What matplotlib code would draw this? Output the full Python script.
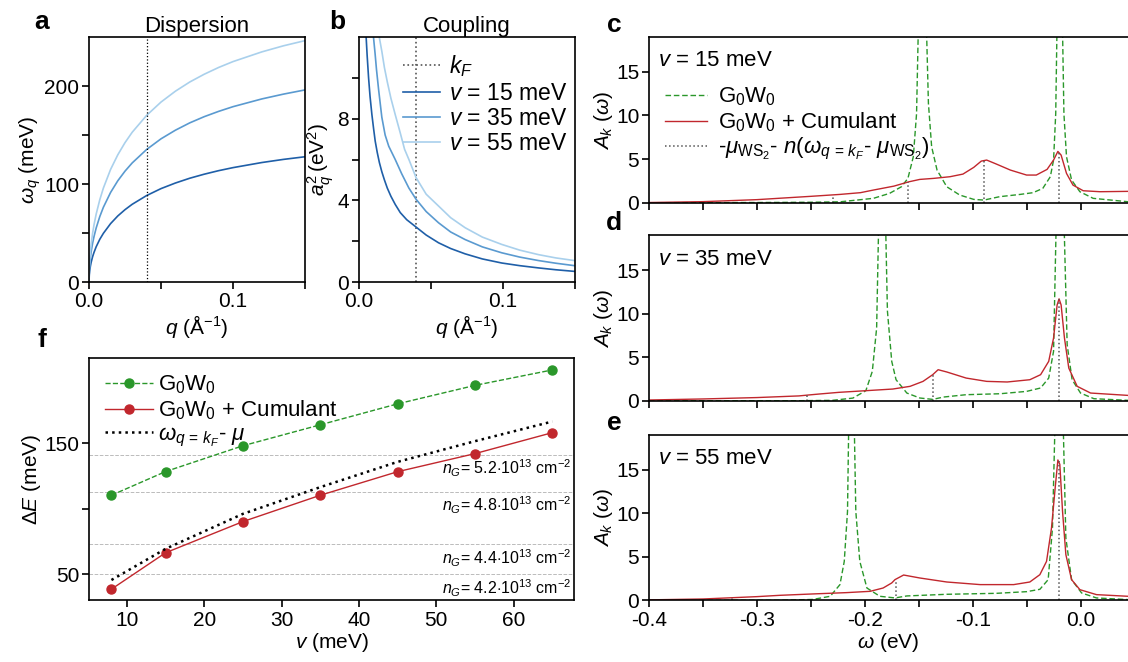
import numpy as np
import matplotlib
matplotlib.use("Agg")
import matplotlib.pyplot as plt

plt.rcParams['font.family'] = ['Liberation Sans', 'DejaVu Sans']
plt.rcParams['mathtext.fontset'] = 'custom'
plt.rcParams['mathtext.rm'] = 'Liberation Sans'
plt.rcParams['mathtext.it'] = 'Liberation Sans:italic'
plt.rcParams['mathtext.bf'] = 'Liberation Sans:bold'
plt.rcParams['font.size'] = 15
plt.rcParams['axes.linewidth'] = 1.2
plt.rcParams['xtick.major.width'] = 1.2
plt.rcParams['ytick.major.width'] = 1.2
plt.rcParams['xtick.major.size'] = 5
plt.rcParams['ytick.major.size'] = 5
plt.rcParams['xtick.major.pad'] = 2.5
plt.rcParams['ytick.major.pad'] = 2

# ---- panel a: dispersion ----
q_disp = [0, 0.0002, 0.0005, 0.001, 0.0015, 0.0025, 0.0035, 0.005, 0.0075, 0.01, 0.015, 0.02, 0.025,
          0.03, 0.04, 0.05, 0.06, 0.07, 0.08, 0.09, 0.10, 0.12, 0.135, 0.15]
w15 = [0, 7.4, 11.6, 16.4, 20.1, 25.8, 30.3, 36.0, 43.6, 49.7, 59.6, 67.4, 73.8, 79.3, 88.2, 95.3,
       101.0, 105.9, 110.0, 113.6, 116.7, 121.9, 125.1, 127.8]
w35 = [0, 11.3, 17.8, 25.2, 30.8, 39.5, 46.5, 55.2, 66.8, 76.3, 91.4, 103.3, 113.1, 121.5, 135.2,
       146.1, 154.9, 162.4, 168.7, 174.1, 178.9, 186.8, 191.7, 196.0]
w55 = [0, 14.2, 22.4, 31.6, 38.7, 49.7, 58.5, 69.4, 84.0, 95.9, 114.9, 129.8, 142.2, 152.8, 170.0,
       183.6, 194.7, 204.1, 212.0, 218.9, 224.9, 234.8, 241.0, 246.3]
kF = 0.040

# ---- panel b: coupling ----
q_b15 = [0.004, 0.0045, 0.0053, 0.006, 0.007, 0.008, 0.0093, 0.0105, 0.0116, 0.013, 0.0145, 0.0162,
         0.018, 0.02, 0.0225, 0.0255, 0.029, 0.0335, 0.04, 0.047, 0.0556, 0.064, 0.074, 0.086,
         0.0995, 0.112, 0.125, 0.137, 0.15]
a15 = [14, 13.2, 12, 11.1, 10.0, 9.1, 8.2, 7.5, 6.9, 6.35, 5.85, 5.4, 5.0, 4.6, 4.2, 3.8, 3.4, 3.05,
       2.69, 2.3, 1.92, 1.64, 1.38, 1.13, 0.93, 0.8, 0.69, 0.6, 0.52]
q_b35 = [0.0085, 0.0095, 0.0104, 0.0115, 0.0125, 0.014, 0.0162, 0.0185, 0.021, 0.0255, 0.03, 0.035,
         0.04, 0.047, 0.0556, 0.064, 0.074, 0.086, 0.0995, 0.112, 0.125, 0.137, 0.15]
a35 = [13.5, 12.7, 12, 11.2, 10.4, 9.4, 8.07, 7.2, 6.65, 6.0, 5.3, 4.6, 4.05, 3.45, 2.9, 2.45, 2.08,
       1.72, 1.43, 1.22, 1.05, 0.92, 0.80]
q_b55 = [0.0125, 0.0135, 0.0144, 0.0162, 0.018, 0.02, 0.0225, 0.0255, 0.029, 0.032, 0.035, 0.04,
         0.047, 0.0556, 0.064, 0.074, 0.086, 0.0995, 0.112, 0.125, 0.137, 0.15]
a55 = [13.3, 12.6, 12.0, 11.3, 10.5, 9.8, 9.0, 8.2, 7.3, 6.5, 6.0, 5.11, 4.3, 3.72, 3.15, 2.66, 2.2,
       1.84, 1.56, 1.34, 1.18, 1.05]

# ---- panels c-e: spectral functions ----
wc_cum = [-0.40, -0.35, -0.30, -0.25, -0.223, -0.204, -0.192, -0.173, -0.159, -0.149, -0.136, -0.121,
          -0.109, -0.099, -0.092, -0.087, -0.078, -0.065, -0.050, -0.041, -0.031, -0.025, -0.021,
          -0.018, -0.013, -0.007, 0.0025, 0.018, 0.044]
cum_c = [0.02, 0.12, 0.35, 0.73, 0.95, 1.15, 1.45, 1.9, 2.4, 2.67, 2.79, 2.98, 3.28, 4.05, 4.77, 4.89,
         4.43, 3.74, 3.17, 3.17, 3.82, 4.89, 5.88, 5.46, 3.36, 2.02, 1.37, 1.26, 1.3]
wc_g = [-0.40, -0.30, -0.25, -0.223, -0.192, -0.177, -0.166, -0.160, -0.155, -0.152, -0.147, -0.141,
        -0.138, -0.133, -0.124, -0.112, -0.099, -0.0895, -0.075, -0.056, -0.044, -0.035, -0.028,
        -0.025, -0.023, -0.0194, -0.0154, -0.013, -0.0083, -0.0006, 0.0117, 0.044]
g_c = [0.0, 0.02, 0.05, 0.1, 0.5, 1.07, 1.83, 2.79, 5.27, 10.2, 40, 11.4, 6.4, 3.74, 1.83, 0.88, 0.38,
       0.3, 0.69, 0.95, 1.15, 1.64, 2.98, 4.89, 10.2, 40, 10.2, 5.27, 2.6, 1.26, 0.5, 0.11]
mark_c_w = [-0.0195, -0.0895, -0.1595, -0.2295]
mark_c_h = [5.85, 4.85, 2.4, 0.9]

wd_cum = [-0.40, -0.35, -0.30, -0.261, -0.25, -0.242, -0.224, -0.199, -0.174, -0.158, -0.146, -0.137,
          -0.132, -0.124, -0.106, -0.087, -0.068, -0.047, -0.037, -0.0295, -0.025, -0.0217, -0.0199,
          -0.018, -0.0149, -0.0109, -0.0031, 0.0093, 0.044]
cum_d = [0.08, 0.2, 0.36, 0.55, 0.68, 0.77, 0.96, 1.15, 1.34, 1.65, 2.22, 2.99, 3.56, 3.3, 2.6, 2.22,
         2.15, 2.41, 2.99, 4.52, 7.2, 11.0, 11.7, 11.0, 7.2, 3.75, 1.65, 0.88, 0.61]
wd_g = [-0.40, -0.30, -0.261, -0.23, -0.211, -0.199, -0.193, -0.189, -0.184, -0.179, -0.175, -0.171,
        -0.161, -0.149, -0.137, -0.127, -0.106, -0.0745, -0.05, -0.037, -0.0295, -0.025, -0.0193,
        -0.0124, -0.0078, 0.0, 0.0124, 0.044]
g_d = [0.0, 0.0, 0.0, 0.04, 0.3, 1.15, 3.37, 8.35, 40, 10.3, 4.52, 2.41, 0.88, 0.31, 0.15, 0.42, 0.69,
       0.8, 1.07, 1.46, 2.6, 5.67, 40, 6.44, 2.41, 0.88, 0.23, 0.04]
mark_d_w = [-0.0195, -0.1365, -0.2535]
mark_d_h = [11.7, 3.0, 0.62]

we_cum = [-0.40, -0.35, -0.30, -0.279, -0.248, -0.217, -0.195, -0.183, -0.175, -0.172, -0.164, -0.149,
          -0.124, -0.093, -0.062, -0.047, -0.0377, -0.0315, -0.0269, -0.0235, -0.021, -0.0192,
          -0.0167, -0.0136, -0.0083, -0.0006, 0.0148, 0.044]
cum_e = [0.05, 0.15, 0.42, 0.57, 0.73, 0.88, 1.03, 1.41, 1.99, 2.37, 2.9, 2.56, 2.1, 1.8, 1.8, 2.1,
         2.94, 4.47, 8.3, 12.9, 16.1, 15.6, 10.25, 5.24, 2.37, 1.22, 0.65, 0.46]
we_g = [-0.40, -0.279, -0.248, -0.232, -0.223, -0.219, -0.216, -0.2126, -0.2083, -0.2046, -0.198,
        -0.186, -0.172, -0.161, -0.124, -0.078, -0.05, -0.0377, -0.030, -0.026, -0.0198, -0.0136,
        -0.0083, 0.001, 0.0148, 0.044]
g_e = [0.0, 0.0, 0.1, 0.46, 1.8, 4.47, 10.2, 40, 10.2, 4.47, 1.41, 0.46, 0.27, 0.5, 0.69, 0.8, 0.99,
       1.26, 2.37, 8.3, 40, 7.15, 2.37, 0.84, 0.27, 0.08]
mark_e_w = [-0.0195, -0.1715, -0.3235]
mark_e_h = [16.0, 2.35, 0.3]

# ---- panel f ----
v_meV = [8, 15, 25, 35, 45, 55, 65]
dE_g0w0 = [110.2, 128.3, 148.0, 164.0, 180.0, 194.1, 205.9]
dE_cum = [38.5, 66.3, 90.1, 110.2, 128.2, 142.0, 158.0]
dE_plasmon = [45.5, 69.3, 96.0, 116.4, 135.7, 151.5, 166.5]
nG_levels = [141.2, 112.9, 73.1, 49.8]
nG_labels = ['5.2', '4.8', '4.4', '4.2']

blue_dark = '#1f5fa8'
blue_mid = '#5a9ad0'
blue_light = '#a9d0ec'
green = '#2a972a'
red = '#c1272d'

W, H = 1128, 662
fig = plt.figure(figsize=(W / 100, H / 100), dpi=100)


def px_axes(left, top, right, bottom):
    return fig.add_axes([left / W, 1 - bottom / H, (right - left) / W, (bottom - top) / H])


# panel a
ax = px_axes(89, 37, 305, 282)
ax.plot(q_disp, w15, color=blue_dark, lw=1.2)
ax.plot(q_disp, w35, color=blue_mid, lw=1.2)
ax.plot(q_disp, w55, color=blue_light, lw=1.2)
ax.axvline(kF, color='k', ls=':', lw=0.9)
ax.set_xlim(0, 0.15)
ax.set_ylim(0, 250)
ax.set_xticks([0, 0.05, 0.1, 0.15])
ax.set_xticklabels(['0.0', '', '0.1', ''])
ax.set_yticks([0, 50, 100, 150, 200])
ax.set_yticklabels(['0', '', '100', '', '200'])
ax.set_xlabel(r'$q$ (Å$^{-1}$)', labelpad=1)
ax.set_ylabel(r'$\omega_q$ (meV)', labelpad=1)
ax.set_title('Dispersion', fontsize=16, pad=3)
fig.text(42 / W, 1 - 22 / H, 'a', fontsize=19, fontweight='bold', ha='center', va='center')

# panel b
ax = px_axes(358.5, 37, 574.5, 282)
ax.axvline(kF, color='#555555', ls=':', lw=1.2, label=r'$k_F$')
ax.plot(q_b15, a15, color=blue_dark, lw=1.2, label=r'$v$ = 15 meV')
ax.plot(q_b35, a35, color=blue_mid, lw=1.2, label=r'$v$ = 35 meV')
ax.plot(q_b55, a55, color=blue_light, lw=1.2, label=r'$v$ = 55 meV')
ax.set_xlim(0, 0.15)
ax.set_ylim(0, 12)
ax.set_xticks([0, 0.05, 0.1, 0.15])
ax.set_xticklabels(['0.0', '', '0.1', ''])
ax.set_yticks([0, 2, 4, 6, 8, 10])
ax.set_yticklabels(['0', '', '4', '', '8', ''])
ax.set_xlabel(r'$q$ (Å$^{-1}$)', labelpad=1)
ax.set_ylabel(r'$a_q^2\,$(eV$^2$)', labelpad=1)
ax.set_title('Coupling', fontsize=16, pad=3)
ax.legend(loc='upper right', bbox_to_anchor=(1.01, 0.97), frameon=False, handlelength=1.6,
          handletextpad=0.4, labelspacing=0.1, borderaxespad=0.0, fontsize=16.5)
fig.text(337 / W, 1 - 22 / H, 'b', fontsize=19, fontweight='bold', ha='center', va='center')

# panels c-e
spec = [
    ('c', 37, 202.7, '15', wc_g, g_c, wc_cum, cum_c, mark_c_w, mark_c_h),
    ('d', 235.3, 400.7, '35', wd_g, g_d, wd_cum, cum_d, mark_d_w, mark_d_h),
    ('e', 434.7, 600.3, '55', we_g, g_e, we_cum, cum_e, mark_e_w, mark_e_h),
]
for letter, top, bottom, vv, wg, gg, wcm, cm, mw, mh in spec:
    ax = px_axes(649, top, 1128, bottom)
    ax.plot(wg, gg, color=green, ls=(0, (4, 2)), lw=1.0, label=r'G$_0$W$_0$')
    ax.plot(wcm, cm, color=red, lw=1.0, label=r'G$_0$W$_0$ + Cumulant')
    ax.vlines(mw, 0, mh, colors='#555555', linestyles=':', lw=1.1,
              label=r'-$\mu_{\mathrm{WS_2}}$- $n(\omega_{q\,=\,k_F}$- $\mu_{\mathrm{WS_2}})$')
    ax.set_xlim(-0.4, 0.044)
    ax.set_ylim(0, 19)
    ax.spines['right'].set_visible(False)
    ax.set_xticks(np.arange(-0.4, 0.01, 0.05))
    ax.set_yticks([0, 5, 10, 15])
    ax.set_ylabel(r'$A_k$ $(\omega)$', labelpad=1)
    if letter == 'e':
        ax.set_xticklabels(['-0.4', '', '-0.3', '', '-0.2', '', '-0.1', '', '0.0'])
        ax.set_xlabel(r'$\omega$ (eV)', labelpad=1)
    else:
        ax.set_xticklabels([])
    ax.text(0.018, 0.92, r'$v$ = ' + vv + ' meV', transform=ax.transAxes, fontsize=16,
            ha='left', va='top')
    if letter == 'c':
        ax.legend(loc='upper left', bbox_to_anchor=(0.0, 0.80), frameon=False, handlelength=1.9,
                  handletextpad=0.5, labelspacing=0.1, borderaxespad=0.3, fontsize=16)
    fig.text(614 / W, 1 - (top - 12) / H, letter, fontsize=19, fontweight='bold',
             ha='center', va='center')

# panel f
ax = px_axes(89, 358, 574, 600.3)
for lev, lab in zip(nG_levels, nG_labels):
    ax.axhline(lev, color='#bbbbbb', ls='--', lw=0.7)
    ax.text(67.5, lev - 2.5, r'$n_G$= ' + lab + r'$\cdot$10$^{13}$ cm$^{-2}$', ha='right', va='top',
            fontsize=11.5)
ax.plot(v_meV, dE_g0w0, color=green, ls='--', lw=1.0, marker='o', ms=6.5, label=r'G$_0$W$_0$')
ax.plot(v_meV, dE_cum, color=red, lw=1.0, marker='o', ms=6.5, label=r'G$_0$W$_0$ + Cumulant')
ax.plot(v_meV, dE_plasmon, color='k', ls=':', lw=1.8, label=r'$\omega_{q\,=\,k_F}$- $\mu$')
ax.set_xlim(5.1, 67.8)
ax.set_ylim(30, 215)
ax.set_xticks([10, 20, 30, 40, 50, 60])
ax.set_yticks([50, 100, 150])
ax.set_yticklabels(['50', '', '150'])
ax.set_xlabel(r'$v$ (meV)', labelpad=1)
ax.set_ylabel(r'$\Delta E$ (meV)', labelpad=1)
ax.legend(loc='upper left', frameon=False, handlelength=2.2, handletextpad=0.2,
          labelspacing=0.1, borderaxespad=0.3, fontsize=16)
fig.text(42 / W, 1 - 340 / H, 'f', fontsize=19, fontweight='bold', ha='center', va='center')

fig.savefig('out.png', dpi=100)
